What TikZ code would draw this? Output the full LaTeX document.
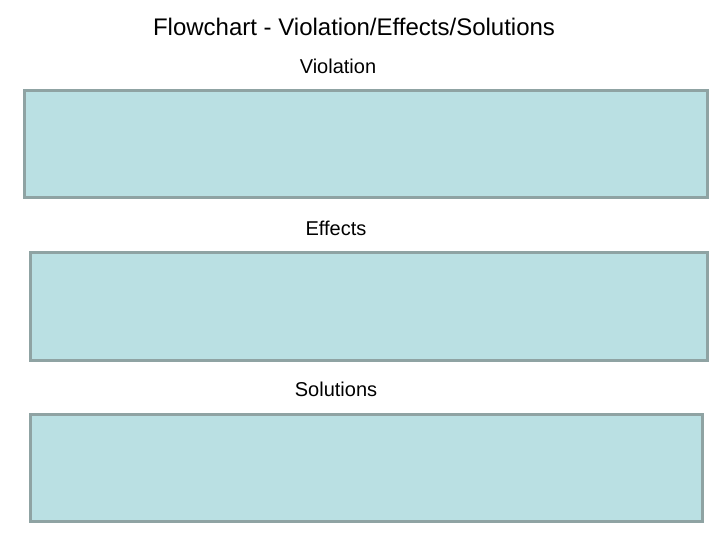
\documentclass[tikz,border=0pt]{standalone}
\usepackage{fontspec}
\setmainfont{Liberation Sans}
\usetikzlibrary{positioning}

\definecolor{panelfill}{HTML}{BAE0E3}
\definecolor{panelline}{HTML}{8FA3A3}

\begin{document}
\begin{tikzpicture}[
  x=1pt, y=-1pt,
  panel/.style={draw=panelline, line width=3pt, fill=panelfill, inner sep=0pt},
  heading/.style={font=\fontsize{20}{24}\selectfont, inner sep=0pt},
  title/.style={font=\fontsize{24}{28}\selectfont, inner sep=0pt}
]
\useasboundingbox (0,0) rectangle (720,540);

\node[title] (top) at (354,27) {Flowchart - Violation/Effects/Solutions};

\node[heading] (violation) at (338,66) {Violation};
\node[panel, minimum width=683pt, minimum height=107pt] (violbox) at (366,144) {};

\node[heading] (effects) at (336,228) {Effects};
\node[panel, minimum width=677pt, minimum height=108pt] (effbox) at (369,306.5) {};

\node[heading] (solutions) at (336,389) {Solutions};
\node[panel, minimum width=672pt, minimum height=107pt] (solbox) at (366.5,468) {};

\end{tikzpicture}
\end{document}
